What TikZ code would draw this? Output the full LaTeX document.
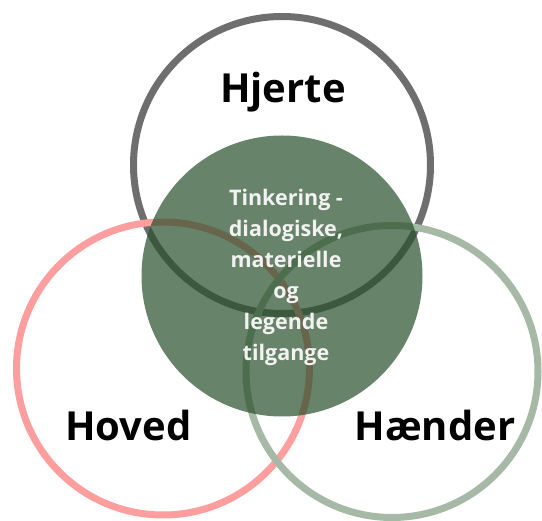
\documentclass[tikz,border=0pt]{standalone}
\usepackage{fontspec}
\setmainfont{Open Sans}
\definecolor{grayring}{RGB}{110,110,110}
\definecolor{pinkring}{RGB}{255,158,158}
\definecolor{sagering}{RGB}{166,185,166}
\definecolor{corefill}{RGB}{39,79,42}
\definecolor{coretext}{RGB}{242,242,242}
\begin{document}
\begin{tikzpicture}[x=1pt,y=-1pt,
  ring/.style={line width=7pt},
  bigword/.style={font=\fontsize{40}{40}\selectfont\bfseries, text=black, anchor=base, inner sep=0pt},
  coreword/.style={font=\fontsize{21.5}{31}\selectfont\bfseries, text=coretext, align=center, inner sep=0pt, anchor=north}]
\useasboundingbox (0,0) rectangle (542,521);
\fill[white] (0,0) rectangle (542,521);
% outline rings
\draw[ring, grayring] (282,165) circle[radius=148.5];
\draw[ring, pinkring] (163,368.5) circle[radius=146.5];
\draw[ring, sagering] (392,371.5) circle[radius=146];
% translucent core
\fill[corefill, fill opacity=0.7] (282,276) circle[radius=140.5];
% labels
\node[bigword] (hjerte) at (283,103) {Hjerte};
\node[bigword] (hoved) at (128.5,441) {Hoved};
\node[bigword] (haender) at (435,441) {Hænder};
\node[coreword] (core) at (286,189) {Tinkering -\\dialogiske,\\materielle\\og\\legende\\tilgange};
\end{tikzpicture}
\end{document}
